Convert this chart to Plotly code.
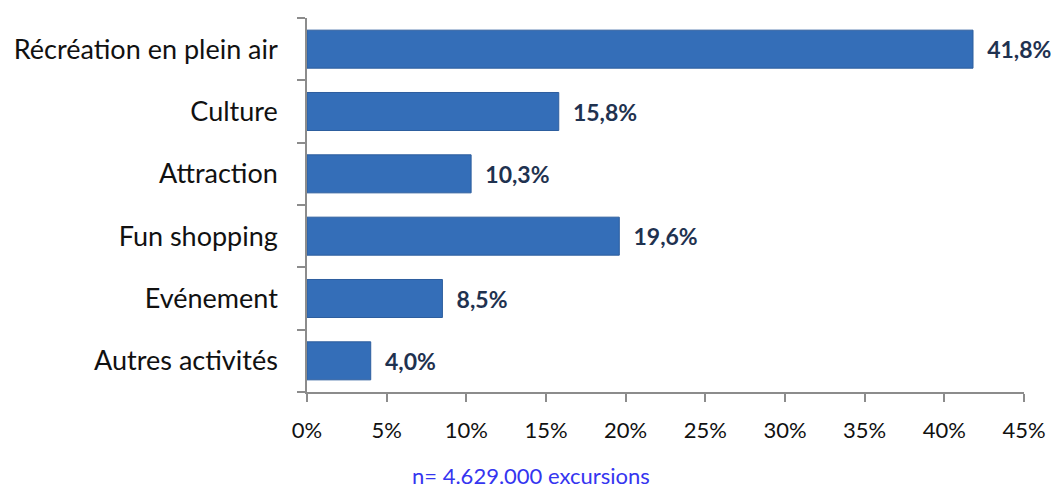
import plotly.graph_objects as go

categories = ["Récréation en plein air", "Culture", "Attraction", "Fun shopping", "Evénement", "Autres activités"]
values = [41.8, 15.8, 10.3, 19.6, 8.5, 4.0]
labels = ["41,8%", "15,8%", "10,3%", "19,6%", "8,5%", "4,0%"]
xticks = [0, 5, 10, 15, 20, 25, 30, 35, 40, 45]
xticktext = [f"{v}%" for v in xticks]
footnote = "n= 4.629.000 excursions"

W, H = 1051, 483
L, R, T, B = 299, 35, 10, 99

fig = go.Figure(go.Bar(
    x=values, y=categories, orientation="h",
    marker=dict(color="#346EB8", line=dict(color="#2D5E9E", width=1)),
    text=["  " + t for t in labels], textposition="outside", cliponaxis=False,
    textfont=dict(family="Lato", size=23, color="#1F3250", weight="bold"),
    width=0.61,
))

fig.update_layout(
    width=W, height=H,
    margin=dict(l=L, r=R, t=T, b=B, autoexpand=False),
    plot_bgcolor="white", paper_bgcolor="white",
    showlegend=False,
    font=dict(family="Lato", size=22, color="#111111"),
    xaxis=dict(range=[0, 45], tickvals=xticks, ticktext=xticktext, automargin=False,
               showgrid=False, zeroline=False, showline=True, linecolor="#8C8C8C", linewidth=1.5,
               ticks="outside", ticklen=8, tickcolor="#8C8C8C", tickwidth=1.5,
               ticklabelstandoff=10,
               tickfont=dict(size=22, family="Lato", color="#111111")),
    yaxis=dict(categoryorder="array", categoryarray=categories[::-1], automargin=False,
               showgrid=False, showline=True, linecolor="#8C8C8C", linewidth=1.5,
               ticks="outside", ticklen=8, tickcolor="#8C8C8C", tickwidth=1.5, tickson="boundaries",
               ticklabelstandoff=22,
               tickfont=dict(size=27, family="Lato", color="#111111")),
    annotations=[dict(text=footnote, showarrow=False,
                      xref="paper", yref="paper",
                      x=(531 - 8 - L) / (W - L - R), y=-(475 - 8 - (H - B)) / (H - T - B),
                      xanchor="center", yanchor="middle",
                      font=dict(size=22, color="#3535F0", family="Lato"))],
)
fig.write_html("out.html")
